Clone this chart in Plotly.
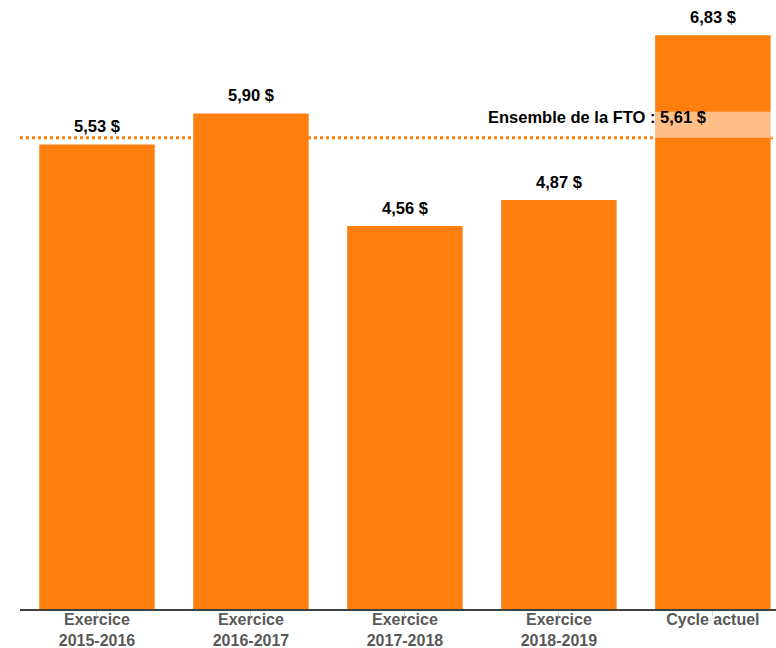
import plotly.graph_objects as go

categories = ["Exercice<br>2015-2016", "Exercice<br>2016-2017", "Exercice<br>2017-2018",
              "Exercice<br>2018-2019", "Cycle actuel"]
values = [5.53, 5.90, 4.56, 4.87, 6.83]
value_labels = ["5,53 $", "5,90 $", "4,56 $", "4,87 $", "6,83 $"]
fto_value = 5.61
fto_label = "Ensemble de la FTO : 5,61 $"

ORANGE = "#ff7f0e"
FONT = "Liberation Sans, Arial, sans-serif"
bar_width = 0.75

fig = go.Figure()
fig.add_trace(go.Bar(
    x=list(range(len(categories))), y=values, width=bar_width,
    marker=dict(color=ORANGE, line=dict(width=0)), hoverinfo="skip",
))

for i, (v, t) in enumerate(zip(values, value_labels)):
    fig.add_annotation(x=i, y=v, text="<b>" + t + "</b>", showarrow=False,
                       yanchor="bottom", yshift=7,
                       font=dict(family=FONT, size=16.5, color="#000000"))

# average line
fig.add_shape(type="line", xref="paper", x0=0, x1=1, yref="y", y0=fto_value, y1=fto_value,
              line=dict(color=ORANGE, width=3, dash="dot"), layer="above")
# light band behind the average label over the last bar
last = len(values) - 1
fig.add_shape(type="rect", xref="x", x0=last - bar_width / 2, x1=last + bar_width / 2 + 0.1,
              yref="y", y0=fto_value, y1=fto_value + 0.31,
              fillcolor="rgba(255,255,255,0.5)", line=dict(width=0), layer="above")
fig.add_annotation(xref="paper", x=0.910, xanchor="right", yref="y", y=fto_value, yshift=21,
                   yanchor="middle", text="<b>" + fto_label + "</b>", showarrow=False,
                   font=dict(family=FONT, size=16.5, color="#000000"))

fig.update_layout(
    width=776, height=648,
    margin=dict(l=20, r=0, t=0, b=39, autoexpand=False),
    plot_bgcolor="white", paper_bgcolor="white",
    showlegend=False, bargap=0.25,
    font=dict(family=FONT),
)
fig.update_xaxes(
    tickmode="array", tickvals=list(range(len(categories))),
    ticktext=["<b>" + c + "</b>" for c in categories],
    range=[-0.5, 4.41], showgrid=False, zeroline=False,
    showline=True, linecolor="#404040", linewidth=1.5,
    ticks="outside", ticklen=5, tickcolor="#d0d0d0",
    ticklabelstandoff=-10,
    tickfont=dict(family=FONT, size=16, color="#595959"),
    automargin=False,
)
fig.update_yaxes(range=[0, 7.25], visible=False, showgrid=False, zeroline=False)

fig.write_html("out.html", config={"displayModeBar": False},
               post_script="document.body.style.margin='0';document.body.style.overflow='hidden';")
